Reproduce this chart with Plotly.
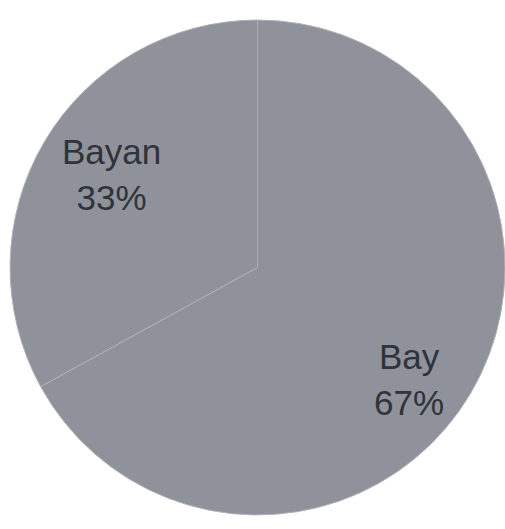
import math
import plotly.graph_objects as go

# Share of each category
labels = ["Bayan", "Bay"]
values = [33, 67]

slice_color = "#8f929a"
text_color = "#30333a"

# Label placement inside each slice: fraction of radius, and a small angular nudge (deg)
label_radius = [0.70, 0.76]
label_nudge = [-2, -6]

W, H = 505, 529
dom_x = [0.02, 1.0]
dom_y = [0.0265, 0.9622]

total = sum(values)
# First slice ends at 12 o'clock, laid out to its left
first_sweep = 360.0 * values[0] / total

fig = go.Figure(
    go.Pie(
        labels=labels,
        values=values,
        sort=False,
        direction="clockwise",
        rotation=-first_sweep,
        marker=dict(colors=[slice_color] * len(values),
                    line=dict(color="#aeb1b8", width=1)),
        textinfo="none",
        hoverinfo="skip",
        showlegend=False,
        domain=dict(x=dom_x, y=dom_y),
    )
)

# Pie geometry in pixels (plotly fits the circle into the smaller domain side)
dw = (dom_x[1] - dom_x[0]) * W
dh = (dom_y[1] - dom_y[0]) * H
r_px = min(dw, dh) / 2
cx = (dom_x[0] + dom_x[1]) / 2 * W
cy = (1 - (dom_y[0] + dom_y[1]) / 2) * H

start = 90.0  # angles measured counterclockwise from 3 o'clock, starting at 12
for lab, val, rf, nudge in zip(labels, values, label_radius, label_nudge):
    sweep = 360.0 * val / total
    mid = math.radians(start + sweep / 2 + nudge)
    px = cx + rf * r_px * math.cos(mid)
    py = cy - rf * r_px * math.sin(mid)
    fig.add_annotation(
        x=px / W, y=1 - py / H, xref="paper", yref="paper",
        text=f"{lab}<br>{round(100 * val / total)}%",
        showarrow=False, align="center",
        xanchor="center", yanchor="middle",
        font=dict(family="Liberation Sans, Arial, sans-serif",
                  size=35, color=text_color),
    )
    start += sweep

fig.update_layout(
    width=W,
    height=H,
    margin=dict(l=0, r=0, t=0, b=0),
    paper_bgcolor="white",
    plot_bgcolor="white",
)

fig.write_html("out.html")
